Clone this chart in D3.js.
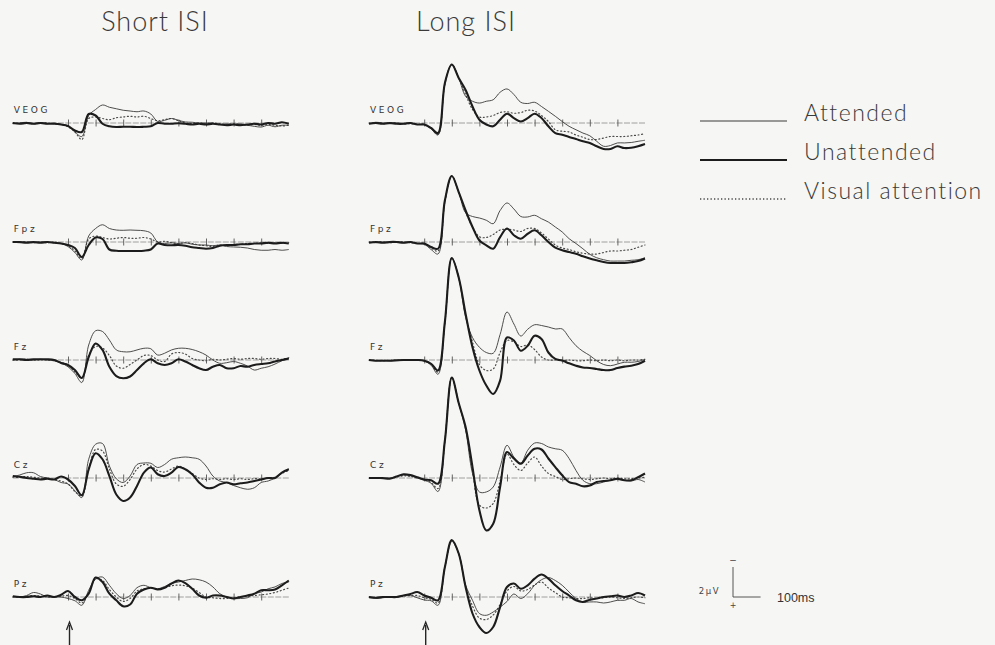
<!DOCTYPE html>
<html>
<head>
<meta charset="utf-8">
<script src="https://cdn.jsdelivr.net/npm/d3@7"></script>
<style>
  body { margin: 0; background: #f6f6f4; }
  svg { display: block; }
</style>
</head>
<body>
<svg id="chart" width="995" height="645"></svg>
<script>
// sampling times (ms) of the digitised waveforms
const times = [-200,-175,-150,-125,-100,-75,-50,-25,0,25,50,75,100,125,150,175,200,225,250,275,300,
  325,350,375,400,425,450,475,500,525,550,575,600,625,650,675,700,725,750,775,800];
const channels = ['VEOG', 'Fpz', 'Fz', 'Cz', 'Pz'];
const conditions = ['Short ISI', 'Long ISI'];
const legendLabels = ['Attended', 'Unattended', 'Visual attention'];
const tickTimes = [0, 100, 200, 300, 400, 500, 600, 700];

// amplitudes in µV (negative plotted upward)
// ---- Short ISI ----
const shortVEOG_att   = [0.05,0,-0.05,0.05,0,0.05,0,0.1, 0.2,0.6,0.9,-0.5,-0.9,-1.2,-1.05,-0.95,-0.85,-0.8,-0.75,-0.8,-0.6,-0.1,-0.18,-0.3,-0.18,-0.07,-0.05,0,0,0,0.1,0.05,0.1,0.05,0.15,0.22,0.27,0.15,0.25,0.15,0.15];
const shortVEOG_unatt = [0,0.05,0,0.05,0,0.05,0.05,0.1, 0.2,0.5,0.6,-0.6,-0.5,0.05,0.22,0.27,0.25,0.25,0.27,0.25,0.22,0,0.05,0.05,0.02,0.05,0.1,0.05,0.1,0.05,0.1,0.15,0.1,0.15,0.1,0.05,0.1,0,0.05,-0.05,0.05];
const shortVEOG_vis   = [0,0,0,0.05,0,0,0.05,0.1, 0.25,0.6,1.1,-0.3,-0.4,-0.3,-0.22,-0.35,-0.4,-0.45,-0.4,-0.45,-0.3,-0.15,-0.22,-0.3,-0.15,0,0.05,0,0.05,0,0.05,0.1,0.05,0.1,0.15,0.1,0.15,0.1,0.15,0.2,0.15];

const shortFpz_att   = [0,0.05,0,0.05,0,0,0.05,0.1, 0.3,0.7,1.2,-0.4,-0.9,-1.15,-0.9,-0.8,-0.78,-0.8,-0.78,-0.75,-0.6,0,0.1,0.05,0.1,0.05,0.15,0.2,0.2,0.25,0.2,0.3,0.33,0.35,0.4,0.5,0.55,0.55,0.5,0.55,0.5];
const shortFpz_unatt = [0,0,0.05,0,0.05,0,0.05,0.1, 0.2,0.4,1.0,0.2,-0.3,-0.2,0.5,0.58,0.6,0.6,0.6,0.58,0.5,0.1,0.2,0.22,0.2,0.25,0.35,0.4,0.45,0.4,0.25,0.2,0.2,0.15,0.15,0.1,0.1,0.05,0.1,0.05,0.1];
const shortFpz_vis   = [0,0,0,0.05,0,0.05,0,0.1, 0.25,0.6,1.1,-0.2,-0.4,-0.3,-0.2,-0.25,-0.3,-0.25,-0.25,-0.3,-0.2,0,-0.05,0.05,0.1,0.05,0.1,0.2,0.25,0.3,0.2,0.25,0.2,0.15,0.1,0.1,0.05,0.1,0.05,0.1,0.05];

const shortFz_att   = [0.02,-0.05,-0.05,0,-0.05,0,0.05,0.2, 0.45,0.9,1.5,-1.0,-1.95,-1.9,-1.33,-0.67,-0.55,-0.55,-0.67,-0.78,-0.75,-0.33,-0.45,-0.67,-0.78,-0.78,-0.7,-0.55,-0.33,0,0.22,0.18,0.1,0.22,0.4,0.67,0.55,0.45,0.27,0.05,-0.1];
const shortFz_unatt = [-0.05,-0.05,0,-0.05,-0.05,-0.05,0,0.2, 0.33,0.67,1.2,-0.2,-1.1,-0.67,0.45,1.07,1.22,1.1,0.67,0.22,-0.05,0.22,0.33,0.22,-0.05,0.1,0.33,0.55,0.67,0.45,0.33,0.55,0.55,0.4,0.45,0.33,0.27,0.22,0.1,0,-0.1];
const shortFz_vis   = [0,0,-0.05,0,0,0,0.05,0.15, 0.35,0.8,1.2,-0.3,-0.9,-0.8,-0.3,0.4,0.55,0.3,0,-0.3,-0.3,0,0.1,-0.4,-0.5,-0.4,-0.1,0,0.05,-0.05,0,-0.05,-0.1,-0.05,-0.1,-0.1,-0.05,-0.1,-0.1,-0.05,-0.15];

const shortCz_att   = [-0.1,-0.2,-0.35,-0.35,-0.1,0,0.1,0.3, 0.4,0.85,1.3,-1.25,-2.25,-2.3,-0.8,0.05,0.3,-0.13,-0.9,-1.0,-0.98,-0.7,-0.9,-1.25,-1.35,-1.4,-1.35,-1.25,-0.8,-0.13,0.2,0.3,0.5,0.65,0.75,0.65,0.3,0.2,0,-0.35,-0.6];
const shortCz_unatt = [-0.13,-0.08,0,0.05,0.1,0.05,0.1,-0.1, 0.1,0.53,1.15,-0.58,-1.65,-1.25,-0.13,1.1,1.53,1.3,0.53,-0.36,-0.7,-0.25,-0.13,-0.36,-0.73,-0.58,-0.25,0.3,0.65,0.65,0.42,0.3,0.42,0.35,0.3,0.2,0.1,0,0,-0.36,-0.58];
const shortCz_vis   = [-0.05,-0.05,-0.1,-0.05,0,0,0.1,0.2, 0.4,0.9,1.2,-0.6,-1.9,-1.8,-0.6,0.4,0.55,0.1,-0.6,-0.9,-0.8,-0.5,-0.4,-0.6,-0.8,-0.6,-0.3,0,0.1,0.05,0.1,0.05,0.1,0.05,0.1,0.05,0.05,0,-0.05,-0.3,-0.5];

const shortPz_att   = [0,0,-0.1,-0.3,-0.2,0,0,0, 0.1,0.25,0.55,-0.45,-1.2,-1.33,-0.78,-0.22,0.1,-0.1,-0.62,-0.78,-0.62,-0.55,-0.7,-0.9,-1.0,-1.1,-1.2,-1.15,-1.0,-0.67,-0.22,0,0.1,0.1,0.05,-0.22,-0.33,-0.55,-0.67,-0.9,-1.0];
const shortPz_unatt = [-0.05,0,0,-0.05,0,-0.1,0,-0.15, -0.4,0,0.22,-0.22,-1.3,-1.0,-0.22,0.22,0.62,0.5,-0.22,-0.5,-0.62,-0.5,-0.62,-0.9,-1.1,-0.93,-0.55,-0.1,0.05,-0.1,-0.1,0,0.1,0,-0.1,-0.22,-0.45,-0.45,-0.5,-0.78,-1.1];
const shortPz_vis   = [0,0,-0.05,-0.1,-0.05,0,0,-0.05, -0.1,0.1,0.4,-0.3,-1.2,-1.1,-0.5,0,0.3,0.1,-0.4,-0.55,-0.6,-0.55,-0.6,-0.75,-0.8,-0.75,-0.6,-0.3,0,0.05,0.1,0.1,0.05,0,-0.05,-0.1,-0.15,-0.2,-0.3,-0.45,-0.6];

// ---- Long ISI ----
const longVEOG_att   = [0.05,-0.05,0,0.05,0,0.05,0,0.1, 0.1,0.4,0.8,-2.6,-3.9,-3.0,-1.78,-1.45,-1.33,-1.45,-1.55,-2.05,-2.27,-1.9,-1.38,-1.3,-1.38,-1.1,-0.78,-0.45,-0.1,0.22,0.45,0.67,0.85,1.22,1.55,1.5,1.33,1.33,1.3,1.22,1.15];
const longVEOG_unatt = [0.05,0,0.05,0,0.05,0.05,0,0.1, 0.1,0.33,0.67,-2.67,-3.9,-3.0,-2.2,-1.1,-0.22,0.1,0.22,-0.22,-0.62,-0.33,-0.1,-0.33,-0.62,-0.33,0.22,0.67,0.78,0.93,1.07,1.22,1.33,1.55,1.73,1.73,1.55,1.67,1.65,1.55,1.4];
const longVEOG_vis   = [0,0,0.05,0,0,0.05,0.05,0.1, 0.1,0.35,0.75,-2.6,-3.9,-3.0,-1.9,-0.9,-0.4,-0.4,-0.5,-0.7,-0.75,-0.65,-0.7,-0.85,-0.8,-0.5,-0.1,0.45,0.55,0.6,0.8,0.95,1.1,1.1,1.0,0.9,0.9,0.9,0.85,0.8,0.7];

const longFpz_att   = [0,0.05,0,0.05,0,0.05,0,0.1, 0.15,0.5,0.8,-2.7,-4.4,-3.33,-1.95,-1.7,-1.6,-1.45,-1.22,-2.1,-2.6,-2.2,-1.7,-1.67,-1.78,-1.55,-1.33,-1.0,-0.67,-0.22,0.1,0.45,0.82,1.05,1.18,1.27,1.27,1.27,1.22,1.18,1.05];
const longFpz_unatt = [0.05,0,0.05,0,0,0.05,0,0.1, 0.1,0.33,0.45,-2.78,-4.4,-3.33,-2.1,-1.0,-0.1,0.22,0.45,-0.33,-0.9,-0.45,-0.22,-0.55,-0.78,-0.45,0,0.38,0.55,0.67,0.78,0.95,1.1,1.22,1.33,1.4,1.4,1.4,1.35,1.27,1.1];
const longFpz_vis   = [0,0,0,0.05,0,0,0.05,0.1, 0.12,0.4,0.6,-2.7,-4.4,-3.3,-2.0,-1.0,-0.35,-0.3,-0.5,-0.8,-0.85,-0.8,-0.7,-0.9,-0.9,-0.6,-0.2,0.2,0.4,0.5,0.65,0.75,0.8,0.8,0.7,0.6,0.6,0.55,0.5,0.35,0.2];

const longFz_att   = [0,0.05,0.02,0.05,0.05,0.02,0,0, 0.05,0.35,0.95,-2.5,-6.8,-5.5,-2.85,-1.5,-0.85,-0.5,-0.45,-1.7,-3.2,-2.4,-1.6,-2.05,-2.35,-2.3,-2.2,-2.07,-2.07,-1.5,-0.95,-0.58,-0.3,0.05,0.3,0.38,0.27,0.15,0.15,0.1,-0.05];
const longFz_unatt = [0,0.05,0.05,0.05,0.02,0,0,0, 0.05,0.25,0.7,-2.55,-6.8,-5.5,-3.07,-0.85,0.7,1.7,2.27,1.38,-1.5,-1.3,-0.62,-0.95,-1.62,-1.4,-0.5,-0.07,0.04,0.22,0.38,0.5,0.53,0.6,0.67,0.67,0.53,0.44,0.38,0.27,0.05];
const longFz_vis   = [0,0.02,0.05,0.02,0,0,0,0, 0.05,0.3,0.8,-2.5,-6.8,-5.5,-3.0,-1.2,0.3,0.7,0.6,-0.5,-1.3,-1.2,-0.9,-1.0,-0.7,-0.2,0,0,0.05,0,0.05,0.05,0,0.05,0,0.05,0,0.05,0,0,-0.05];

const longCz_att   = [0,0,0.05,0,-0.1,-0.2,-0.15,0, 0.15,0.35,0.9,-2.5,-6.7,-5.0,-3.2,-0.3,0.93,0.93,0.6,-0.73,-2.18,-1.4,-1.0,-1.85,-2.33,-2.3,-2.07,-1.95,-1.85,-1.3,-0.5,0.15,0.38,0.38,0.27,0.15,0.1,0.15,0.2,0.1,0.27];
const longCz_unatt = [0,0,0,0.05,-0.1,-0.25,-0.2,-0.05, 0.1,0.15,0.38,-2.5,-6.7,-5.0,-3.4,-0.73,2.15,3.5,3.05,0.6,-1.73,-1.3,-0.95,-1.5,-1.95,-1.9,-1.3,-0.73,-0.18,0.27,0.38,0.55,0.5,0.27,0.2,0.15,0.05,0.15,0.15,-0.05,-0.3];
const longCz_vis   = [0,0.02,0,0.02,-0.05,-0.15,-0.1,0, 0.1,0.3,0.7,-2.5,-6.7,-5.0,-3.3,-0.5,1.8,2.0,1.7,0.2,-1.6,-0.9,-0.5,-1.0,-1.4,-0.8,-0.3,-0.1,0.1,0.05,0,0.05,0.1,0.05,0,0.05,0,0.05,0.05,0,-0.05];

const longPz_att   = [0.05,0.1,0.05,0,0,-0.1,-0.1,0.05, 0.2,0.25,0.55,-2.0,-3.7,-2.9,-0.8,0.22,1.1,1.22,1.0,0.67,0.3,-0.2,0.1,-0.22,-0.78,-1.15,-1.3,-1.1,-0.78,-0.33,0.1,0.33,0.33,0.33,0.4,0.33,0.22,0.22,0.1,0.33,0.45];
const longPz_unatt = [0,0.05,0,0,0,-0.1,-0.2,-0.33, -0.1,0.05,0.22,-2.0,-3.8,-2.9,-0.67,1.1,2.0,2.4,2.0,0.67,-0.67,-0.9,-0.55,-0.78,-1.22,-1.5,-1.22,-0.78,-0.4,-0.1,0.22,0.33,0.18,0.1,0,-0.05,-0.1,0,-0.1,-0.27,-0.1];
const longPz_vis   = [0,0.05,0.02,0,0,-0.05,-0.1,-0.1, 0.05,0.15,0.4,-2.0,-3.75,-2.9,-0.7,0.6,1.4,1.5,1.2,0.5,-0.4,-0.7,-0.4,-0.5,-0.8,-1.0,-0.6,-0.3,0,0.05,0.1,0.1,0.05,0.1,0.05,0,0.05,0.1,0.05,0,0.05];

// table built from the arrays above: condition -> channel -> [attended, unattended, visual]
const waves = {
  'Short ISI': {
    VEOG: [shortVEOG_att, shortVEOG_unatt, shortVEOG_vis],
    Fpz:  [shortFpz_att, shortFpz_unatt, shortFpz_vis],
    Fz:   [shortFz_att, shortFz_unatt, shortFz_vis],
    Cz:   [shortCz_att, shortCz_unatt, shortCz_vis],
    Pz:   [shortPz_att, shortPz_unatt, shortPz_vis]
  },
  'Long ISI': {
    VEOG: [longVEOG_att, longVEOG_unatt, longVEOG_vis],
    Fpz:  [longFpz_att, longFpz_unatt, longFpz_vis],
    Fz:   [longFz_att, longFz_unatt, longFz_vis],
    Cz:   [longCz_att, longCz_unatt, longCz_vis],
    Pz:   [longPz_att, longPz_unatt, longPz_vis]
  }
};

/* layout */
const svg = d3.select('#chart');
const colLeft = [12.8, 369];       // x of -200 ms in each column
const colWidth = 276;              // -200 .. 800 ms
const rowBase = [123, 242, 360, 478, 597];
const pxPerUV = 15;
const ink = '#262626';
const titleFont = 'Lato, "Open Sans", sans-serif';

// series styles: attended thin, unattended thick, visual dotted
const styles = [
  { width: 0.9, color: '#3a3a3a', dash: null },
  { width: 2.1, color: '#1c1c1c', dash: null },
  { width: 1.2, color: '#4a4a4a', dash: '1,2.6' }
];

const titleCentre = [155, 466];
conditions.forEach((cond, c) => {
  const x = d3.scaleLinear().domain([-200, 800]).range([colLeft[c], colLeft[c] + colWidth]);

  svg.append('text')
    .attr('x', titleCentre[c]).attr('y', 31)
    .attr('text-anchor', 'middle')
    .attr('font-family', titleFont)
    .attr('font-weight', 300)
    .attr('font-size', 27)
    .attr('letter-spacing', 1)
    .attr('fill', '#3a3a3a')
    .text(cond);

  channels.forEach((ch, r) => {
    const y = d3.scaleLinear().domain([0, 1]).range([rowBase[r], rowBase[r] + pxPerUV]);
    const g = svg.append('g');

    // baseline + 100 ms ticks
    g.append('line')
      .attr('x1', x(-200)).attr('x2', x(800))
      .attr('y1', y(0)).attr('y2', y(0))
      .attr('stroke', '#8a8a8a').attr('stroke-width', 0.8)
      .attr('stroke-dasharray', '6,1.5');
    const axis = d3.axisBottom(x).tickValues(tickTimes).tickSize(7).tickFormat('');
    g.append('g')
      .attr('transform', `translate(0,${y(0) - 3.5})`)
      .call(axis)
      .call(a => a.select('.domain').remove())
      .call(a => a.selectAll('line').attr('stroke', '#555').attr('stroke-width', 0.9));

    // electrode label
    g.append('text')
      .attr('x', x(-200) + 1).attr('y', y(0) - 10.5)
      .attr('font-family', '"DejaVu Sans", sans-serif')
      .attr('font-size', 9)
      .attr('letter-spacing', 2.6)
      .attr('fill', '#333')
      .text(ch);

    const line = d3.line()
      .x((d, i) => x(times[i]))
      .y(d => y(d))
      .curve(d3.curveCatmullRom.alpha(0.5));

    // draw visual (dotted) first, then attended, then unattended on top
    [2, 0, 1].forEach(k => {
      const s = styles[k];
      g.append('path')
        .datum(waves[cond][ch][k])
        .attr('d', line)
        .attr('fill', 'none')
        .attr('stroke', s.color)
        .attr('stroke-width', s.width)
        .attr('stroke-linejoin', 'round')
        .attr('stroke-linecap', k === 2 ? 'round' : 'butt')
        .attr('stroke-dasharray', s.dash);
    });
  });

  // stimulus onset arrow
  const ax = x(0) + 1.5;
  svg.append('line')
    .attr('x1', ax).attr('x2', ax).attr('y1', 625).attr('y2', 645)
    .attr('stroke', ink).attr('stroke-width', 1.4);
  svg.append('path')
    .attr('d', `M${ax - 3},${630} L${ax},${622} L${ax + 3},${630}`)
    .attr('fill', 'none').attr('stroke', ink).attr('stroke-width', 1.3);
});

/* legend */
const legendY = [121, 160, 199];
const legend = svg.append('g');
legendLabels.forEach((lab, k) => {
  const s = styles[k];
  legend.append('line')
    .attr('x1', 700).attr('x2', 787)
    .attr('y1', legendY[k]).attr('y2', legendY[k])
    .attr('stroke', s.color)
    .attr('stroke-width', k === 1 ? 2 : (k === 0 ? 1 : 1.3))
    .attr('stroke-dasharray', k === 2 ? '1.3,2.2' : null);
  legend.append('text')
    .attr('x', 804).attr('y', legendY[k])
    .attr('font-family', titleFont)
    .attr('font-weight', 300)
    .attr('font-size', 23)
    .attr('letter-spacing', 1.5)
    .attr('fill', '#3a3a3a')
    .text(lab);
});

/* scale bar: 2 µV and 100 ms */
const sx = d3.scaleLinear().domain([0, 100]).range([733, 733 + colWidth / 10]);
const sy = d3.scaleLinear().domain([0, 2]).range([597, 597 - 2 * pxPerUV]);
const sb = svg.append('g').attr('stroke', '#444').attr('stroke-width', 0.9);
sb.append('line').attr('x1', sx(0)).attr('x2', sx(0)).attr('y1', sy(0)).attr('y2', sy(2));
sb.append('line').attr('x1', sx(0)).attr('x2', sx(100)).attr('y1', sy(0)).attr('y2', sy(0));
const smallFont = '"DejaVu Sans", sans-serif';
svg.append('text').attr('x', sx(0)).attr('y', sy(2) - 4).attr('text-anchor', 'middle')
  .attr('font-family', smallFont).attr('font-size', 9).attr('fill', '#444').text('−');
svg.append('text').attr('x', sx(0)).attr('y', sy(0) + 11).attr('text-anchor', 'middle')
  .attr('font-family', smallFont).attr('font-size', 8).attr('fill', '#444').text('+');
svg.append('text').attr('x', 720).attr('y', 594).attr('text-anchor', 'end')
  .attr('font-family', smallFont).attr('font-size', 8.5).attr('letter-spacing', 1.5)
  .attr('fill', '#444').text('2µV');
svg.append('text').attr('x', 777).attr('y', 602)
  .attr('font-family', '"Liberation Sans", Arial, sans-serif').attr('font-size', 12.5)
  .attr('fill', '#333').text('100ms');
</script>
</body>
</html>
